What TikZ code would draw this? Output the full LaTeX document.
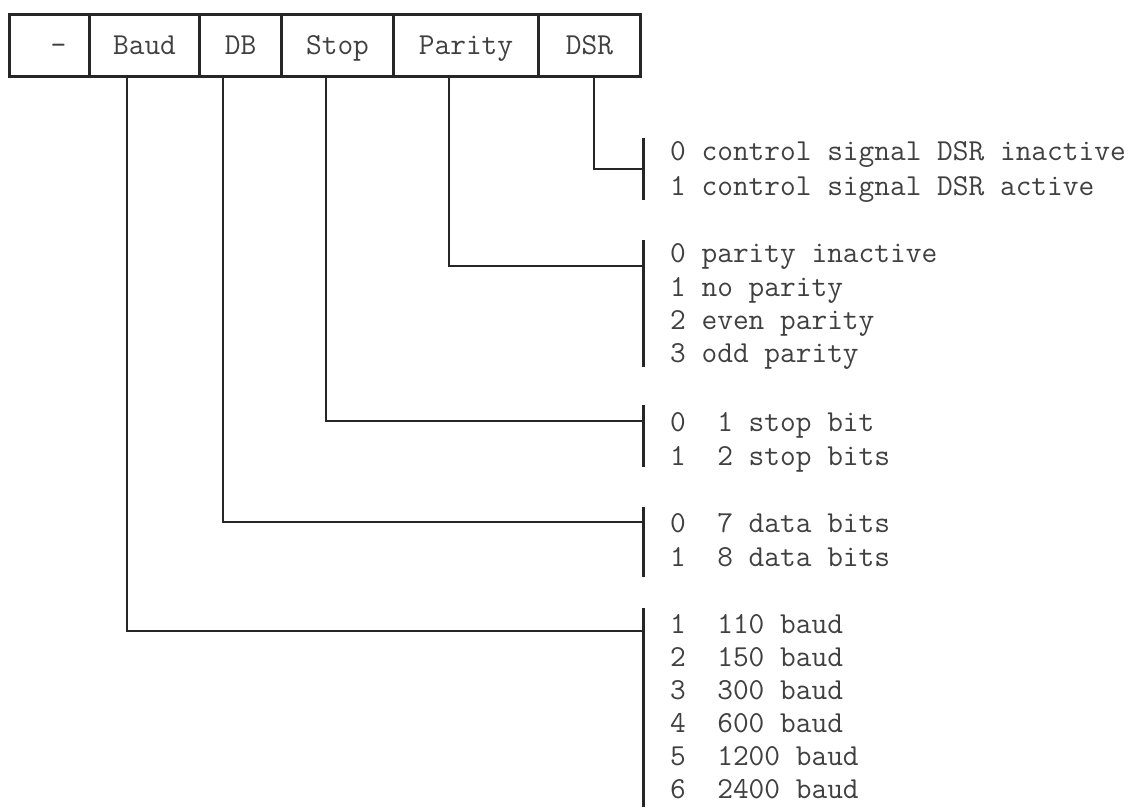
\documentclass[tikz,border=0pt]{standalone}
\usepackage{fontspec}
\begin{document}
\begin{tikzpicture}[x=1pt,y=-1pt,
  every node/.style={font=\ttfamily\fontsize{30.5}{34}\selectfont, text=black!75, inner sep=0pt},
  cell/.style={draw=black!85, line width=3pt, minimum height=62pt, text height=18pt, text depth=0pt, anchor=north west},
  item/.style={anchor=base west},
  wire/.style={draw=black!85, line width=2.8pt},
  bar/.style={draw=black!85, line width=3pt}]
\useasboundingbox[fill=white] (0,0) rectangle (1138,807);

% register fields
\node[cell, minimum width=80pt]  (cdash) at (8,13)   {\hspace*{18pt}-};
\node[cell, minimum width=110pt] (cbaud) at (88,13)  {Baud};
\node[cell, minimum width=82pt]  (cdb)   at (198,13) {DB};
\node[cell, minimum width=112pt] (cstop) at (280,13) {Stop};
\node[cell, minimum width=145pt] (cpar)  at (392,13) {Parity};
\node[cell, minimum width=102pt] (cdsr)  at (537,13) {DSR};

% bars
\coordinate (dsrT) at (643,138); \coordinate (dsrB) at (643,200); \coordinate (dsrM) at (643,169);
\coordinate (parT) at (643,240); \coordinate (parB) at (643,367); \coordinate (parM) at (643,266);
\coordinate (stpT) at (643,405); \coordinate (stpB) at (643,467); \coordinate (stpM) at (643,421);
\coordinate (dbT)  at (643,507); \coordinate (dbB)  at (643,577); \coordinate (dbM)  at (643,522);
\coordinate (bauT) at (643,608); \coordinate (bauB) at (643,807); \coordinate (bauM) at (643,631);
\foreach \g in {dsr,par,stp,db,bau} { \draw[bar] (\g T) -- (\g B); }

% connectors
\draw[wire] ([xshift=57pt]cdsr.south west) |- (dsrM);
\draw[wire] ([xshift=57pt]cpar.south west) |- (parM);
\draw[wire] ([xshift=46pt]cstop.south west) |- (stpM);
\draw[wire] ([xshift=25pt]cdb.south west) |- (dbM);
\draw[wire] ([xshift=39pt]cbaud.south west) |- (bauM);

% value lists
\node[item] (d0) at (670,160) {0 control signal DSR inactive};
\node[item] (d1) at (670,195) {1 control signal DSR active};

\node[item] (p0) at (670,262) {0 parity inactive};
\node[item] (p1) at (670,296) {1 no parity};
\node[item] (p2) at (670,329) {2 even parity};
\node[item] (p3) at (670,362) {3 odd parity};

\node[item] (s0) at (670,431) {0~~1 stop bit};
\node[item] (s1) at (670,465) {1~~2 stop bits};

\node[item] (b0) at (670,532) {0~~7 data bits};
\node[item] (b1) at (670,566) {1~~8 data bits};

\node[item] (r1) at (670,633) {1~~110 baud};
\node[item] (r2) at (670,666) {2~~150 baud};
\node[item] (r3) at (670,699) {3~~300 baud};
\node[item] (r4) at (670,732) {4~~600 baud};
\node[item] (r5) at (670,765) {5~~1200 baud};
\node[item] (r6) at (670,798) {6~~2400 baud};
\end{tikzpicture}
\end{document}
